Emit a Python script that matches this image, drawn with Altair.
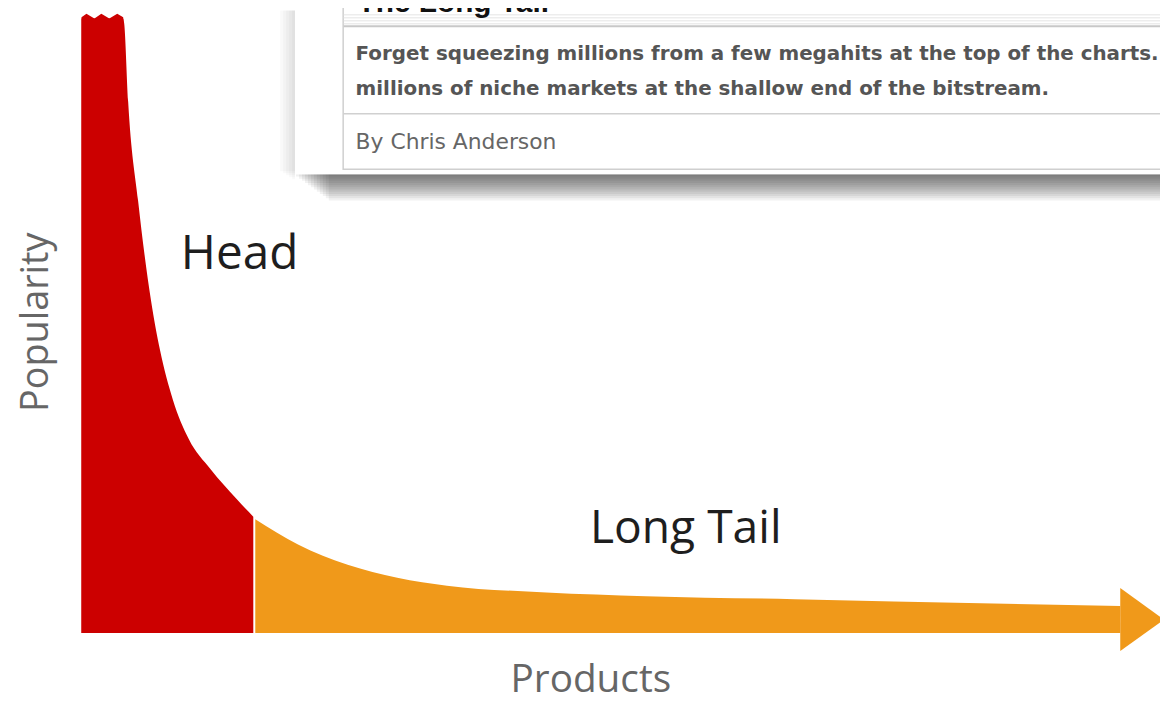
import altair as alt
import pandas as pd

# ---------------- data (product rank vs. popularity) ----------------
head_jag_product = [0.2, 0.7, 1.5, 2.2, 3.0, 3.8, 4.4]
head_jag_popularity = [100.0, 100.6, 99.8, 100.6, 99.8, 100.6, 100.0]

head_product = [0.2, 4.4, 4.5, 4.9, 5.9, 7.2, 8.1, 9.4, 11.0, 13.2, 15.8, 17.5]
head_popularity = [99.8, 99.8, 99.0, 86.3, 70.2, 54.0, 46.0, 37.9, 31.5, 26.6, 21.8, 18.9]

tail_product = [17.7, 22.0, 27.0, 32.0, 37.0, 47.0, 57.0, 72.0, 92.0, 104.8]
tail_popularity = [18.5, 14.4, 11.1, 9.0, 7.7, 6.6, 6.0, 5.5, 4.8, 4.4]

arrow_product = [104.8, 109.2]
arrow_top = [7.3, 2.2]
arrow_bottom = [-2.9, 2.2]

labels_big = ["Head", "Long Tail"]
axis_labels = ["Popularity", "Products"]
header_title = "The Long Tail"
header_lines = [
    "Forget squeezing millions from a few megahits at the top of the charts.",
    "millions of niche markets at the shallow end of the bitstream.",
]
byline = "By Chris Anderson"

# ---------------- layout ----------------
W, H = 1160, 695
PAGE = 8
X0_PX, X_UNIT_PX = 80.0, 10.0
Y0_PX, Y_UNIT_PX = 635.0, 6.2
x_domain = [(PAGE - X0_PX) / X_UNIT_PX, (PAGE + W - X0_PX) / X_UNIT_PX]
y_domain = [(Y0_PX - (PAGE + H)) / Y_UNIT_PX, (Y0_PX - PAGE) / Y_UNIT_PX]
xs = alt.Scale(domain=x_domain, nice=False, zero=False)
ys = alt.Scale(domain=y_domain, nice=False, zero=False)


def P(v):
    return v - PAGE


RED = "#cc0000"
ORANGE = "#f0991a"
one = pd.DataFrame({"k": [0]})


def X(field):
    return alt.X(field, type="quantitative", scale=xs, axis=None)


def Y(field):
    return alt.Y(field, type="quantitative", scale=ys, axis=None)


layers = []

# head: smooth body first, jagged cap on top (overlapping, so no seam)
layers.append(
    alt.Chart(pd.DataFrame({"product": head_product, "popularity": head_popularity}))
    .mark_area(color=RED, interpolate="monotone")
    .encode(x=X("product"), y=Y("popularity"), y2=alt.datum(0))
)
layers.append(
    alt.Chart(pd.DataFrame({"product": head_jag_product, "popularity": head_jag_popularity}))
    .mark_area(color=RED, interpolate="linear")
    .encode(x=X("product"), y=Y("popularity"), y2=alt.datum(0))
)
# tail
layers.append(
    alt.Chart(pd.DataFrame({"product": tail_product, "popularity": tail_popularity}))
    .mark_area(color=ORANGE, interpolate="monotone")
    .encode(x=X("product"), y=Y("popularity"), y2=alt.datum(0))
)
# arrow head
layers.append(
    alt.Chart(pd.DataFrame({"product": arrow_product, "top": arrow_top, "bottom": arrow_bottom}))
    .mark_area(color=ORANGE, interpolate="linear")
    .encode(x=X("product"), y=Y("top"), y2=alt.Y2("bottom"))
)

# big labels
layers.append(
    alt.Chart(pd.DataFrame({"t": [labels_big[0]]}))
    .mark_text(font="Open Sans", fontSize=48, color="#1e1e1e", align="left", baseline="alphabetic")
    .encode(text="t:N", x=alt.value(P(182)), y=alt.value(P(268)))
)
layers.append(
    alt.Chart(pd.DataFrame({"t": [labels_big[1]]}))
    .mark_text(font="Open Sans", fontSize=46.5, color="#1e1e1e", align="left", baseline="alphabetic")
    .encode(text="t:N", x=alt.value(P(594)), y=alt.value(P(544)))
)
layers.append(
    alt.Chart(pd.DataFrame({"t": [axis_labels[0]]}))
    .mark_text(font="Open Sans", fontSize=38, color="#666666", align="center",
               baseline="alphabetic", angle=270)
    .encode(text="t:N", x=alt.value(P(48)), y=alt.value(P(322)))
)
layers.append(
    alt.Chart(pd.DataFrame({"t": [axis_labels[1]]}))
    .mark_text(font="Open Sans", fontSize=39, color="#666666", align="left", baseline="alphabetic")
    .encode(text="t:N", x=alt.value(P(514)), y=alt.value(P(694)))
)

# ---------------- article header overlay ----------------
# bottom shadow (stacked translucent strips)
for i in range(12):
    layers.append(
        alt.Chart(one)
        .mark_rect(color="black", opacity=0.055)
        .encode(x=alt.value(P(298 + 3 * i)), x2=alt.value(W),
                y=alt.value(P(173)), y2=alt.value(P(173 + 2.2 * (i + 1))))
    )
# left shadow
for i in range(5):
    layers.append(
        alt.Chart(one)
        .mark_rect(color="black", opacity=0.025)
        .encode(x=alt.value(P(297 - 3 * (i + 1))), x2=alt.value(P(297)),
                y=alt.value(0), y2=alt.value(P(178 - 2 * i)))
    )
# outer white box
layers.append(
    alt.Chart(one)
    .mark_rect(color="white")
    .encode(x=alt.value(P(297)), x2=alt.value(W), y=alt.value(0), y2=alt.value(P(173)))
)
# inner bordered box
layers.append(
    alt.Chart(one)
    .mark_rect(fill="white", stroke="#cfcfcf", strokeWidth=1.5)
    .encode(x=alt.value(P(345.5)), x2=alt.value(W + 20), y=alt.value(-20), y2=alt.value(P(168)))
)
# striped header band
for yy in [12, 15, 18, 21]:
    layers.append(
        alt.Chart(one)
        .mark_rule(color="#e4e4e4", strokeWidth=1)
        .encode(x=alt.value(P(346)), x2=alt.value(W), y=alt.value(P(yy) + 0.5))
    )
layers.append(
    alt.Chart(one)
    .mark_rule(color="#c8c8c8", strokeWidth=2)
    .encode(x=alt.value(P(346)), x2=alt.value(W), y=alt.value(P(24)))
)
layers.append(
    alt.Chart(one)
    .mark_rule(color="#d0d0d0", strokeWidth=1.5)
    .encode(x=alt.value(P(346)), x2=alt.value(W), y=alt.value(P(112)))
)
# header texts
layers.append(
    alt.Chart(pd.DataFrame({"t": [header_title]}))
    .mark_text(font="Liberation Sans", fontWeight="bold", fontSize=30, color="#111111",
               align="left", baseline="alphabetic")
    .encode(text="t:N", x=alt.value(P(360)), y=alt.value(P(10)))
)
for txt, base in zip(header_lines, [58, 93]):
    layers.append(
        alt.Chart(pd.DataFrame({"t": [txt]}))
        .mark_text(font="DejaVu Sans", fontWeight="bold", fontSize=20, color="#555555",
                   align="left", baseline="alphabetic")
        .encode(text="t:N", x=alt.value(P(358)), y=alt.value(P(base)))
    )
layers.append(
    alt.Chart(pd.DataFrame({"t": [byline]}))
    .mark_text(font="DejaVu Sans", fontSize=22, color="#666666", align="left", baseline="alphabetic")
    .encode(text="t:N", x=alt.value(P(358)), y=alt.value(P(148)))
)

chart = (
    alt.layer(*layers)
    .properties(width=W, height=H, padding=0, autosize="none", background="white")
    .configure_view(stroke=None)
)

chart.save("out.html", embed_options={"renderer": "svg", "actions": False})
